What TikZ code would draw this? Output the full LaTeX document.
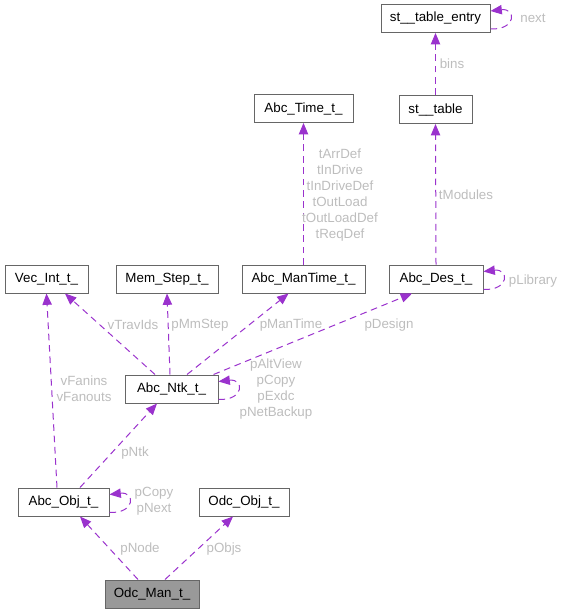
\documentclass[tikz,border=0pt]{standalone}
\usepackage{fontspec}
\setmainfont{Liberation Sans}
\usepackage{tikz}
\usetikzlibrary{arrows.meta, positioning, calc}
\definecolor{edgepurple}{HTML}{9A32CD}
\definecolor{boxgray}{HTML}{666666}
\definecolor{lblgray}{HTML}{BDBDBD}
\definecolor{rootgray}{HTML}{999999}

\begin{document}
\begin{tikzpicture}[x=0.75pt, y=-0.75pt, >={Triangle[length=8.5pt,width=7pt]},
    cls/.style={draw=boxgray, line width=0.75pt, fill=white, minimum height=21pt, inner sep=0pt, font=\fontsize{10}{12}\selectfont},
    root/.style={cls, fill=rootgray},
    dep/.style={->, draw=edgepurple, fill=none, line width=0.75pt, dash pattern=on 5pt off 3.5pt},
    lbl/.style={text=lblgray, inner sep=0pt, align=center, font=\fontsize{10}{12}\selectfont}]

    \useasboundingbox (0,0) rectangle (562,613);

    % ================= Classes =================
    % top row
    \node[cls, minimum width=81.75pt] (St_entry) at (435.5,18.5) {st\_\_table\_entry};
    \node[cls, minimum width=54.75pt] (St_table) at (435.5,109.5) {st\_\_table};
    \node[cls, minimum width=74.25pt] (Abc_Time) at (303.5,108.5) {Abc\_Time\_t\_};

    % middle row
    \node[cls, minimum width=62.25pt] (Vec_Int) at (46.5,279) {Vec\_Int\_t\_};
    \node[cls, minimum width=76.5pt] (Mem_Step) at (167,279) {Mem\_Step\_t\_};
    \node[cls, minimum width=92.25pt] (Abc_ManTime) at (303.5,279) {Abc\_ManTime\_t\_};
    \node[cls, minimum width=70.5pt] (Abc_Des) at (436,279) {Abc\_Des\_t\_};

    % network, objects and the manager
    \node[cls, minimum width=69.75pt] (Abc_Ntk) at (171.5,389) {Abc\_Ntk\_t\_};
    \node[cls, minimum width=68.25pt] (Abc_Obj) at (63.5,502) {Abc\_Obj\_t\_};
    \node[cls, minimum width=67.5pt] (Odc_Obj) at (244,502) {Odc\_Obj\_t\_};
    \node[root, minimum width=70.5pt] (Odc_Man) at (152,594) {Odc\_Man\_t\_};

    % ================= Hash table =================
    \draw[dep] (St_table.north) -- (St_entry.south);
    \node[lbl] (l_bins) at (452,64) {bins};
    \draw[dep] ($(St_entry.south east)+(0,-4)$) .. controls +(26,1) and +(26,-3) .. ($(St_entry.north east)+(0,7)$);
    \node[lbl] (l_next) at (533,18) {next};

    \draw[dep] (Abc_Des.north) -- (St_table.south);
    \node[lbl] (l_tmod) at (466,195) {tModules};
    \draw[dep] ($(Abc_Des.south east)+(0,-4)$) .. controls +(26,1) and +(26,-3) .. ($(Abc_Des.north east)+(0,7)$);
    \node[lbl] (l_plib) at (533,281) {pLibrary};

    % ================= Timing =================
    \draw[dep] (Abc_ManTime.north) -- (Abc_Time.south);
    \node[lbl] (l_time) at (340,195) {tArrDef\\tInDrive\\tInDriveDef\\tOutLoad\\tOutLoadDef\\tReqDef};

    % ================= Network =================
    \draw[dep] ($(Abc_Ntk.north)+(-16.5,0)$) -- ($(Vec_Int.south)+(18.5,0)$);
    \node[lbl] (l_trav) at (133,325) {vTravIds};
    \draw[dep] ($(Abc_Ntk.north)+(-1.5,0)$) -- (Mem_Step.south);
    \node[lbl] (l_mm) at (200,325) {pMmStep};
    \draw[dep] ($(Abc_Ntk.north)+(15.5,0)$) -- ($(Abc_ManTime.south)+(-15,0)$);
    \node[lbl] (l_mant) at (291,325) {pManTime};
    \draw[dep] ($(Abc_Ntk.north east)+(-5,0)$) -- ($(Abc_Des.south)+(-24,0)$);
    \node[lbl] (l_des) at (389,325) {pDesign};
    \draw[dep] ($(Abc_Ntk.south east)+(0,-4)$) .. controls +(26,1) and +(26,-3) .. ($(Abc_Ntk.north east)+(0,7)$);
    \node[lbl] (l_ntkself) at (276,389) {pAltView\\pCopy\\pExdc\\pNetBackup};

    % ================= Objects =================
    \draw[dep] ($(Abc_Obj.north)+(-6.5,0)$) -- (Vec_Int.south);
    \node[lbl] (l_fan) at (84,389) {vFanins\\vFanouts};
    \draw[dep] ($(Abc_Obj.north)+(16.5,0)$) -- ($(Abc_Ntk.south)+(-14.5,0)$);
    \node[lbl] (l_ntk) at (135,453) {pNtk};
    \draw[dep] ($(Abc_Obj.south east)+(0,-4)$) .. controls +(26,1) and +(26,-3) .. ($(Abc_Obj.north east)+(0,7)$);
    \node[lbl] (l_objself) at (154,501) {pCopy\\pNext};

    % ================= Manager =================
    \draw[dep] ($(Odc_Man.north)+(-14,0)$) -- ($(Abc_Obj.south)+(16.5,0)$);
    \node[lbl] (l_node) at (140,549) {pNode};
    \draw[dep] ($(Odc_Man.north)+(13,0)$) -- ($(Odc_Obj.south)+(-11,0)$);
    \node[lbl] (l_objs) at (224,549) {pObjs};

\end{tikzpicture}
\end{document}
